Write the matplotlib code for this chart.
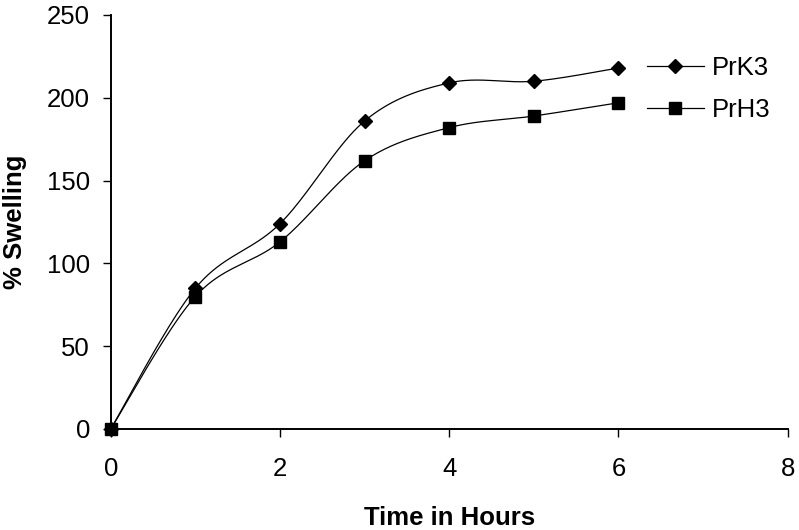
import numpy as np
import matplotlib
matplotlib.use("Agg")
import matplotlib.pyplot as plt
from matplotlib.lines import Line2D

hours = [0, 1, 2, 3, 4, 5, 6]
prk3 = [0, 85, 124, 186, 209, 210, 218]
prh3 = [0, 80, 113, 162, 182, 189, 197]
series_names = ["PrK3", "PrH3"]
x_ticks = [0, 2, 4, 6, 8]
y_ticks = [0, 50, 100, 150, 200, 250]

plt.rcParams['font.family'] = ['Liberation Sans', 'DejaVu Sans']


def smooth(xs, ys, n=40):
    p = np.column_stack([xs, ys]).astype(float)
    out = []
    for i in range(len(p) - 1):
        p0 = p[i - 1] if i > 0 else p[i]
        p1 = p[i]
        p2 = p[i + 1]
        p3 = p[i + 2] if i + 2 < len(p) else p[i + 1]
        c1 = p1 + (p2 - p0) / 6.0
        c2 = p2 - (p3 - p1) / 6.0
        t = np.linspace(0, 1, n)[:, None]
        seg = ((1 - t) ** 3) * p1 + 3 * ((1 - t) ** 2) * t * c1 + 3 * (1 - t) * t ** 2 * c2 + t ** 3 * p2
        out.append(seg if i == 0 else seg[1:])
    s = np.vstack(out)
    return s[:, 0], s[:, 1]


fig = plt.figure(figsize=(7.99, 5.30), dpi=100)
ax = fig.add_axes([0.1386, 0.1906, 0.8473, 0.7811])

fs = 18.5
for vals, mk, ms in [(prk3, 'D', 7.5), (prh3, 's', 8.5)]:
    sx, sy = smooth(hours, vals)
    ax.plot(sx, sy, color='black', lw=0.9)
    ax.plot(hours, vals, linestyle='none', marker=mk, color='black', markersize=ms)

ax.set_xlim(0, 8)
ax.set_ylim(0, 250)
ax.set_xticks(x_ticks)
ax.set_yticks(y_ticks)
ax.tick_params(axis='both', direction='out', length=6, width=1.0, labelsize=fs)
ax.tick_params(axis='y', pad=9)
ax.tick_params(axis='x', pad=14)
for s in ['top', 'right']:
    ax.spines[s].set_visible(False)
for s in ['left', 'bottom']:
    ax.spines[s].set_linewidth(1.4)

ax.set_xlabel("Time in Hours", fontsize=fs, fontweight='bold')
ax.xaxis.set_label_coords(0.5, -0.185)
ax.set_ylabel("% Swelling", fontsize=fs, fontweight='bold')
ax.yaxis.set_label_coords(-0.123, 0.5)

handles = [Line2D([], [], color='black', lw=0.9, marker='D', markersize=7),
           Line2D([], [], color='black', lw=0.9, marker='s', markersize=8)]
leg = fig.legend(handles, series_names, loc='upper left', bbox_to_anchor=(0.81, 0.895),
                 frameon=False, fontsize=fs, handlelength=2.2, handletextpad=0.3,
                 labelspacing=0.72, borderaxespad=0, borderpad=0)
for l in ax.lines:
    l.set_clip_on(False)

fig.savefig("out.png", dpi=100)
